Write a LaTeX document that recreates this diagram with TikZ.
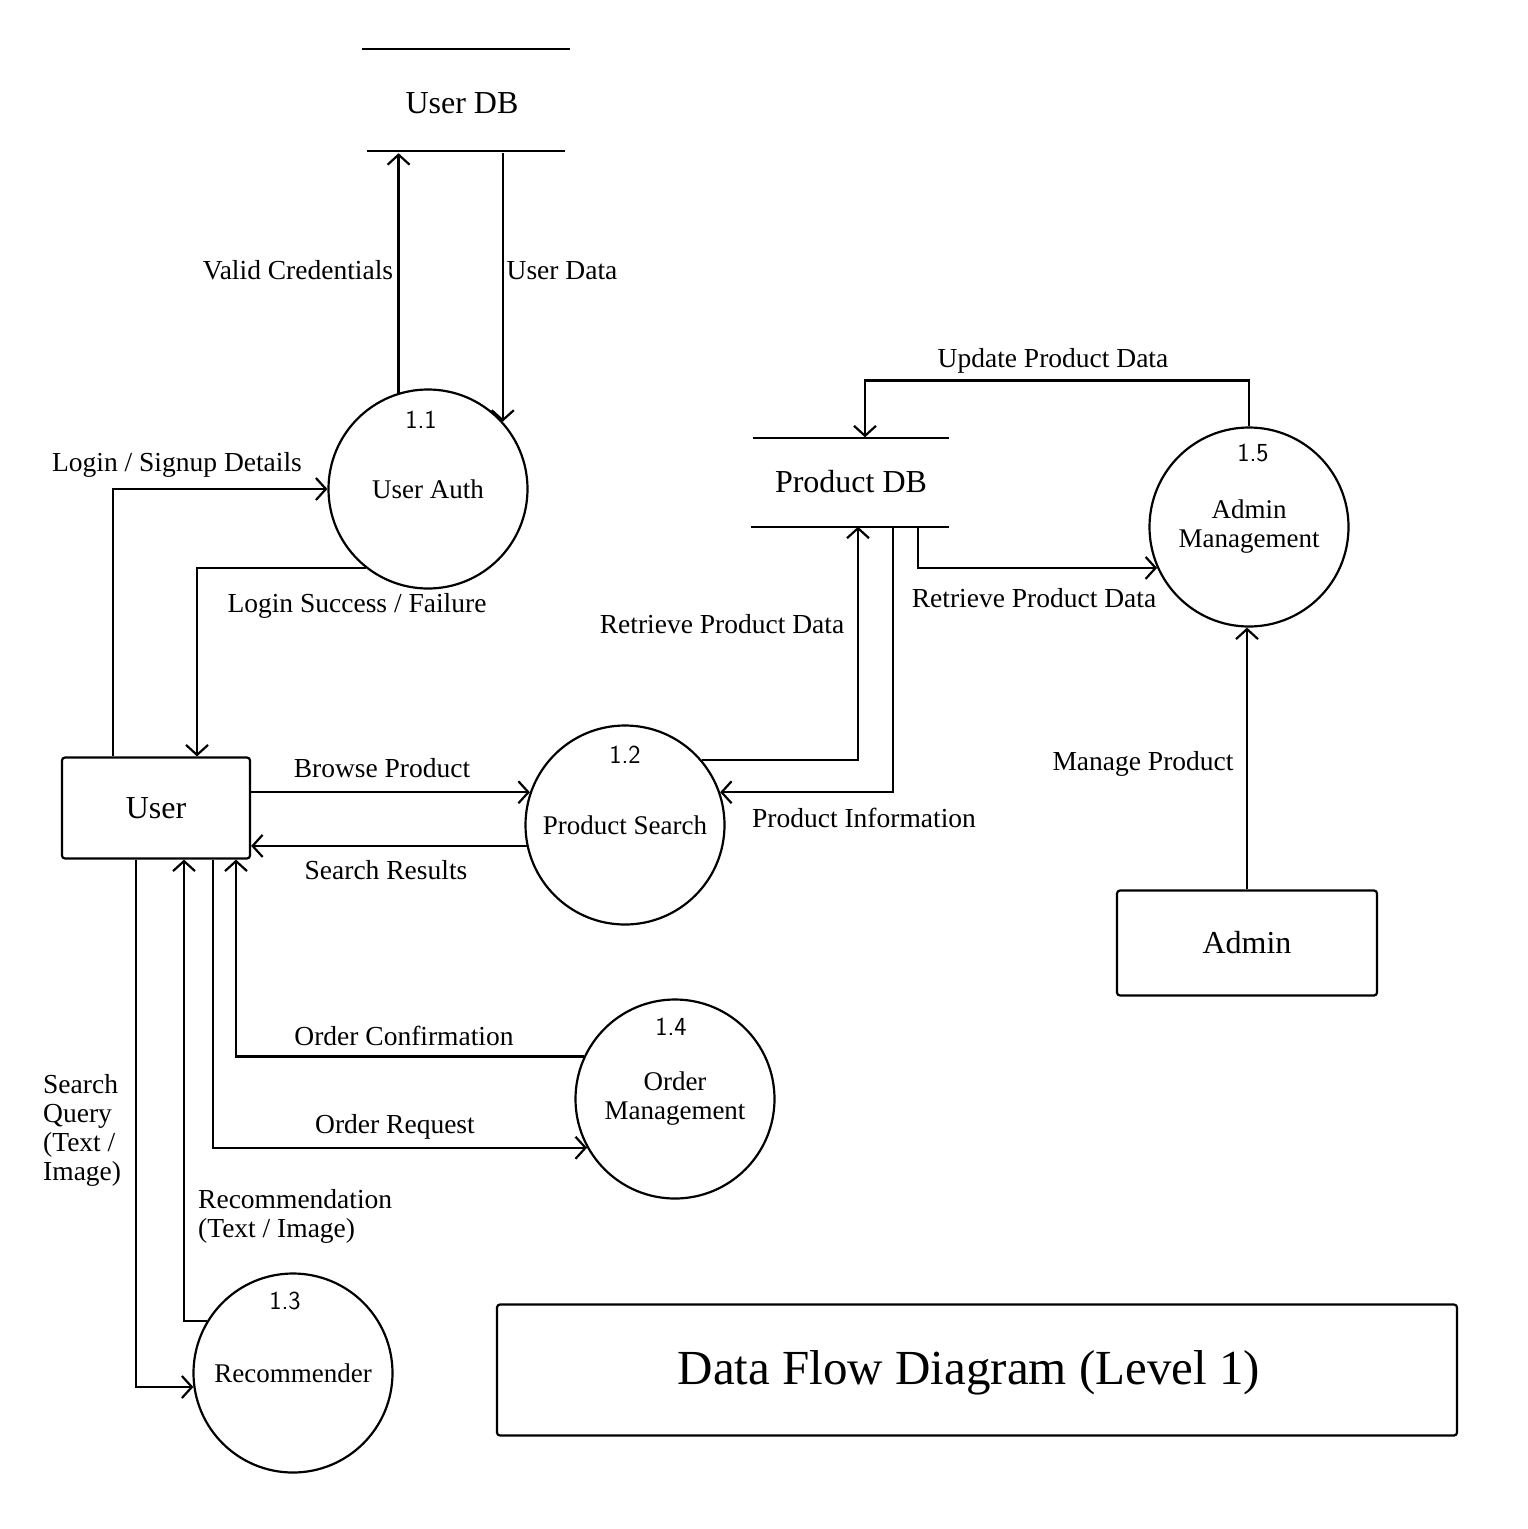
\documentclass[tikz,border=0pt]{standalone}
\usepackage{fontspec}
\setmainfont{Liberation Serif}
\usetikzlibrary{arrows.meta,positioning}

\begin{document}
\begin{tikzpicture}[x=1pt, y=-1pt,
    proc/.style={draw, circle, line width=2.2pt, minimum size=199pt, inner sep=0pt, align=center, font=\fontsize{27}{29}\selectfont},
    ext/.style={draw, rounded corners=3pt, line width=2.2pt, minimum width=188pt, minimum height=101pt, font=\fontsize{32}{36}\selectfont},
    store/.style={minimum width=200pt, minimum height=100pt, inner sep=0pt, font=\fontsize{32}{36}\selectfont},
    lbl/.style={font=\fontsize{27.5}{29}\selectfont, inner sep=1pt},
    num/.style={font=\fontsize{26}{28}\selectfont\sffamily, inner sep=0pt},
    flow/.style={-{Straight Barb[length=10pt,width=22pt]}, line width=2.2pt},
    line/.style={line width=2.2pt}]
    \useasboundingbox (0,0) rectangle (1528,1529);

    % Stores
    \node[store] (udb) at (462,103) {User DB};
    \draw[line] (362,49) -- (570,49);
    \draw[line] (367,151) -- (565,151);
    \node[store, minimum height=89pt] (pdb) at (851,482) {Product DB};
    \draw[line] (753,438) -- (949,438);
    \draw[line] (751,527) -- (949,527);

    % Processes
    \node[proc] (auth) at (428,489) {User Auth};
    \node[proc] (ps) at (625,825) {Product Search};
    \node[proc] (rec) at (293,1373) {Recommender};
    \node[proc] (om) at (675,1099) {Order\\Management};
    \node[proc] (am) at (1249,527) {Admin\\Management};

    \node[num] (n11) at (421,420) {1.1};
    \node[num] (n12) at (625,755) {1.2};
    \node[num] (n13) at (285,1301) {1.3};
    \node[num] (n14) at (671,1027) {1.4};
    \node[num] (n15) at (1253,453) {1.5};

    % Entities
    \node[ext] (user) at (156,808) {User};
    \node[ext, minimum width=260pt, minimum height=105pt] (admin) at (1247,943) {Admin};
    \node[draw, rounded corners=3pt, line width=2.2pt, minimum width=960pt, minimum height=131pt] (ttl) at (977,1370) {};
    \node[font=\fontsize{49}{52}\selectfont] (ttltxt) at (969,1373) {Data Flow Diagram (Level 1)};

    % Arrows
    \draw[flow] (auth.107) -- (auth.107 |- udb.south);
    \draw[flow] (auth.42 |- udb.south) -- (auth.42);
    \draw[flow] ([xshift=-43pt]user.north) |- (auth.west);
    \draw[flow] (auth.232) -| ([xshift=41pt]user.north);
    \draw[flow] (ps.161 -| user.east) -- (ps.161);
    \draw[flow] (ps.192) -- (ps.192 -| user.east);
    \draw[flow] (ps.40) -| ([xshift=7pt]pdb.south);
    \draw[flow] ([xshift=42pt]pdb.south) |- (ps.19);
    \draw[flow] ([xshift=67pt]pdb.south) |- (am.204);
    \draw[flow] (am.north) -- ++(0,-46) -| ([xshift=14pt]pdb.north);
    \draw[flow] (admin.north) -- (admin.north |- am.south);
    \draw[flow] (om.155) -| ([xshift=80pt]user.south);
    \draw[flow] ([xshift=57pt]user.south) |- (om.209);
    \draw[flow] ([xshift=-20pt]user.south) |- (rec.188);
    \draw[flow] (rec.149) -| ([xshift=28pt]user.south);

    % Labels
    \node[lbl] (l1) at (298,270) {Valid Credentials};
    \node[lbl] (l2) at (562,271) {User Data};
    \node[lbl] (l3) at (177,465) {Login / Signup Details};
    \node[lbl] (l4) at (357,606) {Login Success / Failure};
    \node[lbl] (l5) at (382,768) {Browse Product};
    \node[lbl] (l6) at (386,870) {Search Results};
    \node[lbl] (l7) at (722,624) {Retrieve Product Data};
    \node[lbl] (l8) at (864,818) {Product Information};
    \node[lbl] (l9) at (1034,598) {Retrieve Product Data};
    \node[lbl] (l10) at (1053,361) {Update Product Data};
    \node[lbl] (l11) at (1143,764) {Manage Product};
    \node[lbl] (l12) at (404,1036) {Order Confirmation};
    \node[lbl] (l13) at (395,1127) {Order Request};
    \node[lbl, align=left, anchor=west] (l14) at (42,1130) {Search\\Query\\(Text /\\Image)};
    \node[lbl, align=left, anchor=west] (l15) at (197,1216) {Recommendation\\(Text / Image)};
\end{tikzpicture}
\end{document}
